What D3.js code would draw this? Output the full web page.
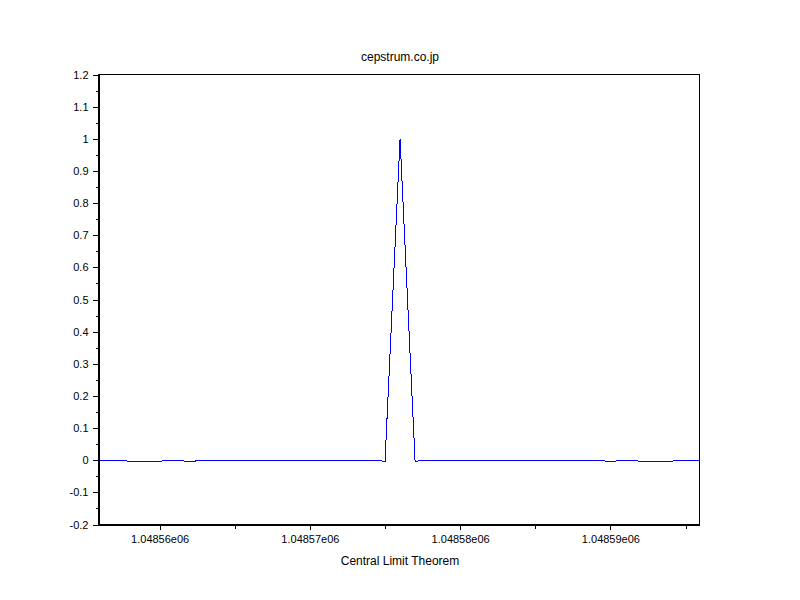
<!DOCTYPE html>
<html>
<head>
<meta charset="utf-8">
<script src="https://cdn.jsdelivr.net/npm/d3@7"></script>
<style>
  body { margin: 0; background: #fff; }
  svg { display: block; }
  text { font-family: "Liberation Sans", Arial, sans-serif; fill: #000; }
</style>
</head>
<body>
<svg id="chart" width="800" height="600"></svg>
<script>
// ---- data ----
const title = "cepstrum.co.jp";
const xLabel = "Central Limit Theorem";
const xDomain = [1048555.93, 1048595.93];
const yDomain = [-0.2, 1.2];
const xSamples = d3.range(1048556, 1048596);
const yValues = [
  0, 0, -0.003, -0.003, -0.003, 0, -0.004, 0, 0, 0,      // 1048556..1048565
  0, 0, 0, 0, 0, 0, 0, 0, 0, -0.003,                     // 1048566..1048575
  1,                                                     // 1048576
  -0.003, 0, 0, 0, 0, 0, 0, 0, 0, 0,                     // 1048577..1048586
  0, 0, 0, -0.004, 0, -0.003, -0.003, -0.003, 0          // 1048587..1048595
];
const xMajorTicks = [1048560, 1048570, 1048580, 1048590];
const xMinorTicks = [1048565, 1048575, 1048585, 1048595];
const yMajorTicks = [-0.2, -0.1, 0, 0.1, 0.2, 0.3, 0.4, 0.5, 0.6, 0.7, 0.8, 0.9, 1, 1.1, 1.2];
const yMinorTicks = [-0.15, -0.05, 0.05, 0.15, 0.25, 0.35, 0.45, 0.55, 0.65, 0.75, 0.85, 0.95, 1.05, 1.15];

// ---- layout ----
const svg = d3.select("#chart");
const mLeft = 98, mRight = 699, mTop = 74, mBottom = 524;

const x = d3.scaleLinear().domain(xDomain).range([mLeft, mRight]);
const y = d3.scaleLinear().domain(yDomain).range([mBottom, mTop]);

const fmtX = v => {
  const s = v.toExponential(5);
  const [m, e] = s.split("e");
  const n = Math.abs(parseInt(e, 10));
  return m + "e" + (parseInt(e, 10) < 0 ? "-" : "") + String(n).padStart(2, "0");
};
const fmtY = v => String(Math.round(v * 10) / 10);

// data line (clipped to plot area, extended to right edge)
svg.append("clipPath").attr("id", "clip").append("rect")
  .attr("x", mLeft).attr("y", mTop).attr("width", mRight - mLeft + 1).attr("height", mBottom - mTop + 1);
const data = xSamples.map((d, i) => [d, yValues[i]]);
data.push([xDomain[1], 0]);
svg.append("path")
  .datum(data)
  .attr("clip-path", "url(#clip)")
  .attr("fill", "none")
  .attr("stroke", "#0000ff")
  .attr("stroke-width", 1)
  .attr("shape-rendering", "crispEdges")
  .attr("d", d3.line().x(d => x(d[0]) + 0.5).y(d => y(d[1]) + 0.5));

// frame
svg.append("rect")
  .attr("x", mLeft + 0.5).attr("y", mTop + 0.5)
  .attr("width", mRight - mLeft).attr("height", mBottom - mTop)
  .attr("fill", "none").attr("stroke", "#000").attr("stroke-width", 1)
  .attr("shape-rendering", "crispEdges");

// x axis
const gx = svg.append("g").attr("transform", `translate(0.5,${mBottom + 0.5})`);
gx.call(d3.axisBottom(x).tickValues(xMajorTicks).tickSize(5).tickSizeOuter(0).tickPadding(6).tickFormat(fmtX));
gx.append("g").call(d3.axisBottom(x).tickValues(xMinorTicks).tickSize(4).tickSizeOuter(0).tickFormat(""));
gx.selectAll("text").style("font-size", "11px").style("font-family", "Liberation Sans, Arial, sans-serif");

// y axis
const gy = svg.append("g").attr("transform", `translate(${mLeft + 0.5},0.5)`);
gy.call(d3.axisLeft(y).tickValues(yMajorTicks).tickSize(6).tickSizeOuter(0).tickPadding(4).tickFormat(fmtY));
gy.append("g").call(d3.axisLeft(y).tickValues(yMinorTicks).tickSize(3).tickSizeOuter(0).tickFormat(""));
gy.selectAll("text").style("font-size", "11px").style("font-family", "Liberation Sans, Arial, sans-serif");

svg.selectAll(".domain").attr("stroke", "#000").attr("shape-rendering", "crispEdges");
svg.selectAll(".tick line").attr("stroke", "#000").attr("shape-rendering", "crispEdges");

// title & label
svg.append("text").attr("x", 400).attr("y", 61).attr("text-anchor", "middle")
  .style("font-size", "12px").text(title);
svg.append("text").attr("x", 400).attr("y", 565).attr("text-anchor", "middle")
  .style("font-size", "12px").text(xLabel);
</script>
</body>
</html>
